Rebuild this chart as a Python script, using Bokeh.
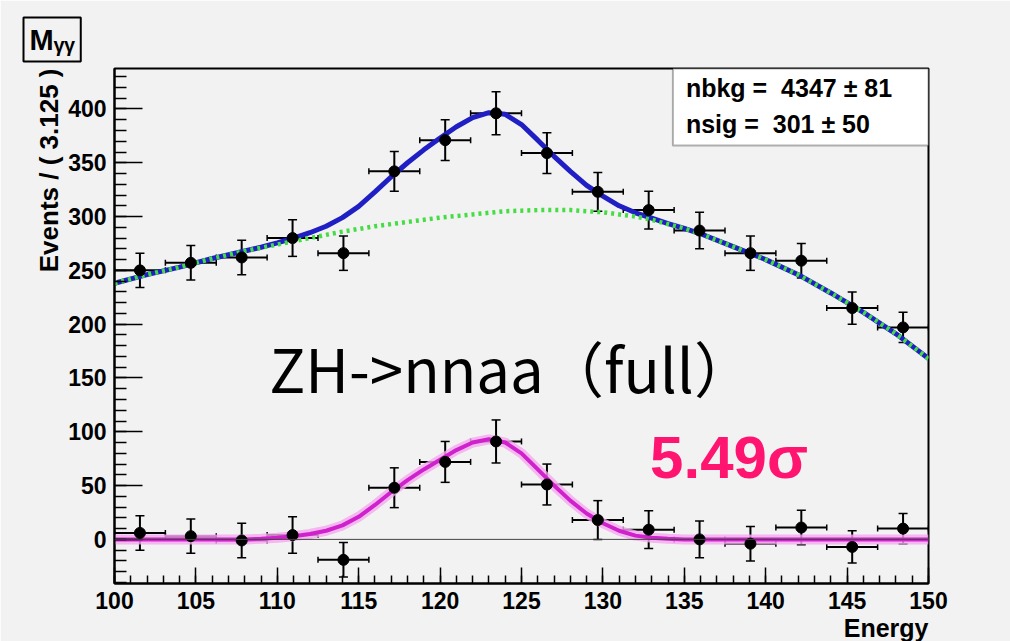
import numpy as np
from bokeh.plotting import figure
from bokeh.models import (ColumnDataSource, Whisker, TeeHead, Label, BoxAnnotation,
                          Span, SingleIntervalTicker, Title)
from bokeh.embed import file_html
from bokeh.resources import INLINE

# ---------------- data ----------------
bin_width = 3.125
bin_centers = [101.5625, 104.6875, 107.8125, 110.9375, 114.0625, 117.1875, 120.3125, 123.4375,
               126.5625, 129.6875, 132.8125, 135.9375, 139.0625, 142.1875, 145.3125, 148.4375]
events = [250, 257, 262, 280, 266, 342, 371, 396, 359, 323, 306, 287, 266, 259, 215, 197]
event_err = [16, 16, 16, 17, 16, 18.5, 19, 20, 19, 18, 17.5, 17, 16, 16, 15, 14]
residuals = [6, 3, -1, 4, -19, 48, 72, 91, 51, 18, 9, 0, -4, 11, -7, 10]

curve_x = [100, 102, 104, 106, 108, 109, 110, 111, 112, 113, 114, 115, 116, 117, 118, 119,
           120, 121, 122, 123, 124, 125, 126, 127, 128, 129, 130, 131, 132, 133, 134, 135,
           136, 138, 140, 142, 144, 146, 148, 150]
bkg_curve = [238, 246, 253, 261, 268, 271, 274, 277, 280, 283, 286, 288.5, 291, 293, 295, 297,
             299, 300.5, 302, 303.5, 305, 305.5, 306, 306, 306, 305, 304, 302, 300, 297, 293, 289,
             284, 272, 260, 246, 229, 211, 191, 168]
sig_curve = [0, 0, 0, 0, 0, 0.5, 1.5, 3, 5, 8, 13, 21, 32, 44, 55, 65,
             74, 83, 90, 93, 90, 80, 65, 50, 36, 24, 15, 8, 3.5, 1.5, 0.5, 0,
             0, 0, 0, 0, 0, 0, 0, 0]
total_curve = [238, 246, 253, 261, 268, 271.5, 275.5, 280, 285, 291, 299, 309.5, 323, 337, 350, 362,
               373, 383.5, 392, 396.5, 395, 385.5, 371, 356, 342, 329, 319, 310, 303.5, 298.5, 293.5, 289,
               284, 272, 260, 246, 229, 211, 191, 168]

y_ticks_interval = 50
x_ticks_interval = 5

# ---------------- figure ----------------
BG = "#f2f2f2"
p = figure(width=1010, height=641, x_range=(100, 150), y_range=(-41, 437.6),
           output_backend="svg", toolbar_location=None,
           min_border_left=114, min_border_right=82, min_border_top=68, min_border_bottom=56)
p.background_fill_color = BG
p.border_fill_color = BG
p.outline_line_color = "black"
p.outline_line_width = 2
p.xgrid.visible = False
p.ygrid.visible = False

for ax in (p.xaxis[0], p.yaxis[0]):
    ax.axis_line_width = 2
    ax.axis_line_color = "black"
    ax.major_tick_out = 0
    ax.minor_tick_out = 0
    ax.major_tick_line_width = 1.5
    ax.minor_tick_line_width = 1.5
    ax.major_label_text_font = "Liberation Sans"
    ax.major_label_text_font_style = "bold"
    ax.major_label_text_font_size = "23px"
    ax.major_label_text_color = "black"
    ax.major_label_standoff = 8

p.yaxis.ticker = SingleIntervalTicker(interval=y_ticks_interval, num_minor_ticks=5)
p.xaxis.ticker = SingleIntervalTicker(interval=x_ticks_interval, num_minor_ticks=5)
p.yaxis.major_tick_in = 28
p.yaxis.minor_tick_in = 12
p.xaxis.major_tick_in = 16
p.xaxis.minor_tick_in = 8

# ---------------- titles (outside the frame) ----------------
p.title.text = "M\u1d67\u1d67"
p.title.align = "left"
p.title.vertical_align = "top"
p.title.offset = -91
p.title.standoff = 10
p.title.text_font = "Liberation Sans"
p.title.text_font_style = "bold"
p.title.text_font_size = "29px"
p.title.text_color = "black"
p.title.border_line_color = "black"
p.title.border_line_width = 2
p.title.background_fill_color = BG
p.title.padding = 6

p.add_layout(Title(text="Events / ( 3.125 )", align="right", text_font="Liberation Sans",
                   text_font_style="bold", text_font_size="26px", text_color="black",
                   standoff=4, offset=0), "left")
p.add_layout(Title(text="Energy", align="right", text_font="Liberation Sans",
                   text_font_style="bold", text_font_size="25px", text_color="black",
                   standoff=0, offset=0), "below")

# ---------------- curves ----------------
cs = ColumnDataSource(dict(x=curve_x, bkg=bkg_curve, sig=sig_curve, tot=total_curve))
p.line("x", "sig", source=cs, line_color="#f4a8ee", line_width=10, line_alpha=0.8)
p.line("x", "sig", source=cs, line_color="#cf22cc", line_width=4)
p.line("x", "tot", source=cs, line_color="#1f1fc4", line_width=5)
p.line("x", "bkg", source=cs, line_color="#44dd44", line_width=4.5, line_dash="3 4")

p.add_layout(Span(location=0, dimension="width", line_color="#444444", line_width=1))

# ---------------- points with error bars ----------------
half = bin_width / 2
xc = np.array(bin_centers)
for vals in (events, residuals):
    v = np.array(vals, dtype=float)
    e = np.array(event_err, dtype=float)
    src = ColumnDataSource(dict(x=xc, y=v, up=v + e, lo=v - e, xl=xc - half, xr=xc + half))
    p.add_layout(Whisker(source=src, base="x", upper="up", lower="lo", dimension="height",
                         line_color="black", line_width=2,
                         upper_head=TeeHead(size=9, line_width=1.5, line_color="black"),
                         lower_head=TeeHead(size=9, line_width=1.5, line_color="black")))
    p.add_layout(Whisker(source=src, base="y", upper="xr", lower="xl", dimension="width",
                         line_color="black", line_width=2,
                         upper_head=TeeHead(size=6, line_width=1.5, line_color="black"),
                         lower_head=TeeHead(size=6, line_width=1.5, line_color="black")))
    p.scatter("x", "y", source=src, size=11, color="black")

# ---------------- stats box ----------------
p.add_layout(BoxAnnotation(left=134.3, right=150, top=437.6, bottom=366,
                           fill_color="white", fill_alpha=1, line_color="black", line_width=2))
p.add_layout(Label(x=135.1, y=419.5, text="nbkg =\u00a0\u00a04347\u00a0\u00b1\u00a081",
                   text_font="Liberation Sans", text_font_style="bold", text_font_size="25px",
                   text_baseline="middle", text_color="black"))
p.add_layout(Label(x=135.1, y=386, text="nsig =\u00a0\u00a0301\u00a0\u00b1\u00a050",
                   text_font="Liberation Sans", text_font_style="bold", text_font_size="25px",
                   text_baseline="middle", text_color="black"))

# ---------------- annotations ----------------
p.add_layout(Label(x=109.5, y=161, text="ZH->nnaa\uff08full\uff09", text_font="Noto Sans CJK SC",
                   text_font_size="60px", text_color="black", text_baseline="alphabetic"))
p.add_layout(Label(x=132.9, y=76.5, text="5.49\u03c3", text_font="Liberation Sans",
                   text_font_style="bold", text_font_size="60px", text_color="#ff1470",
                   text_baseline="alphabetic"))

open("out.html", "w").write(file_html(p, INLINE))
